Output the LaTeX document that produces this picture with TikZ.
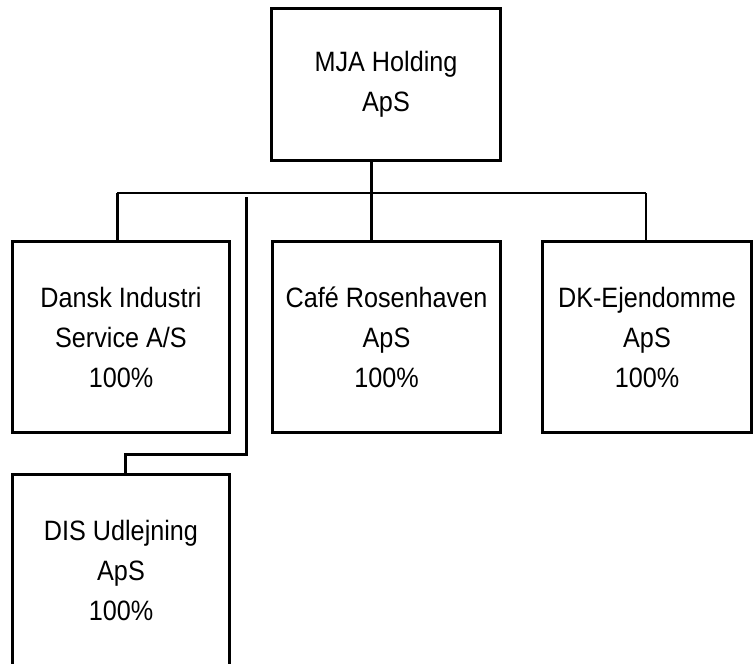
\documentclass[tikz,border=0pt]{standalone}
\usepackage{fontspec}
\setmainfont{Liberation Sans}[FakeStretch=0.9]

\begin{document}
\begin{tikzpicture}[x=1pt,y=-1pt,line width=3pt,font=\fontsize{28}{40}\selectfont]
  \tikzstyle{company}=[draw,rectangle,align=center,inner sep=0pt,minimum width=217pt,minimum height=191pt]
  \clip (0,0) rectangle (753,664);

  \node[company,minimum width=229pt,minimum height=152pt] (mja) at (386,84.5) {MJA Holding\\ApS};
  \node[company] (dansk) at (121,337) {Dansk Industri\\Service A/S\\100\%};
  \node[company,minimum width=228pt] (cafe) at (386.5,337) {Café Rosenhaven\\ApS\\100\%};
  \node[company,minimum width=209pt] (dk) at (647,337) {DK-Ejendomme\\ApS\\100\%};
  \node[company] (dis) at (121,570) {DIS Udlejning\\ApS\\100\%};

  \coordinate (bus) at (371,193);
  \coordinate (busleft) at (117,193);
  \coordinate (busright) at (646,193);
  \coordinate (bend) at (246,197);
  \coordinate (elbow) at (246,454);
  \coordinate (elbowleft) at (125,454);

  \draw (mja.south -| bus) -- (bus |- cafe.north);
  \draw[line width=1.75pt] (busleft) -- (busright);
  \draw (busleft) -- (busleft |- dansk.north);
  \draw[line width=2pt] (busright) -- (busright |- dk.north);
  \draw (bend) -- (elbow) -- (elbowleft) -- (elbowleft |- dis.north);
\end{tikzpicture}
\end{document}
